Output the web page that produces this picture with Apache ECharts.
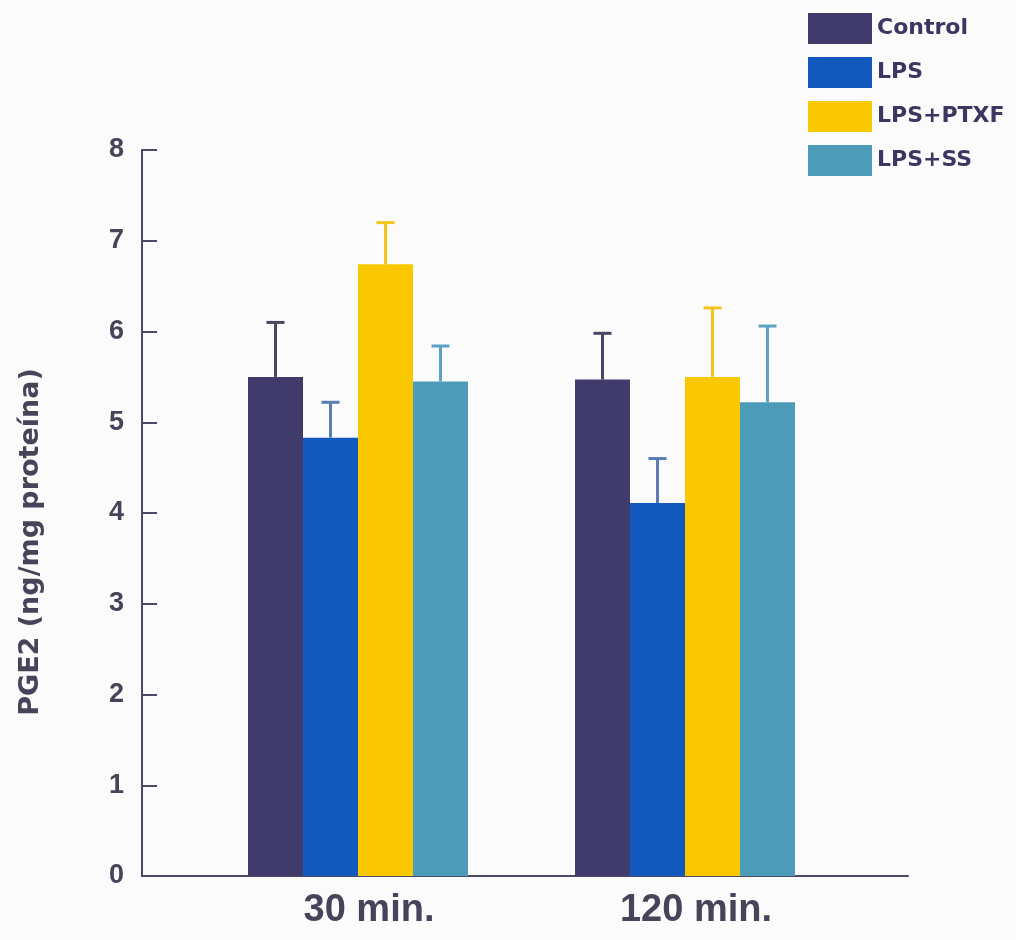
<!DOCTYPE html>
<html>
<head>
<meta charset="utf-8">
<script src="https://cdn.jsdelivr.net/npm/echarts@6/dist/echarts.min.js"></script>
<style>
html,body{margin:0;padding:0;background:#fbfbfc;}
#chart{width:1016px;height:940px;}
</style>
</head>
<body>
<div id="chart"></div>
<script>
// ---- data ----
const categories = ['30 min.', '120 min.'];
const seriesNames = ['Control', 'LPS', 'LPS+PTXF', 'LPS+SS'];
const controlMean = [5.50, 5.47];
const controlErr  = [0.60, 0.51];
const lpsMean     = [4.83, 4.11];
const lpsErr      = [0.39, 0.49];
const ptxfMean    = [6.74, 5.50];
const ptxfErr     = [0.46, 0.76];
const ssMean      = [5.45, 5.22];
const ssErr       = [0.39, 0.84];
const yTicks      = [0, 1, 2, 3, 4, 5, 6, 7, 8];
const yName = 'PGE2 (ng/mg proteína)';

// ---- styles ----
const barColors = ['#413b6b', '#1259bd', '#fac800', '#4b9bb9'];
const errColors = ['#4a4560', '#5b7cb4', '#f2c41c', '#5ca2c4'];
const BAR_W = 55;
const CAP_W = 18;
const means = [controlMean, lpsMean, ptxfMean, ssMean];
const errs = [controlErr, lpsErr, ptxfErr, ssErr];
const axisColor = '#4d4868';
const textColor = '#47445a';

const chart = echarts.init(document.getElementById('chart'));

const barSeries = seriesNames.map((name, i) => ({
  name: name,
  type: 'bar',
  xAxisIndex: 1,
  yAxisIndex: 1,
  barWidth: BAR_W,
  barGap: '0%',
  itemStyle: { color: barColors[i] },
  data: means[i],
  z: 3
}));

const errSeries = seriesNames.map((name, i) => ({
  type: 'custom',
  xAxisIndex: 1,
  yAxisIndex: 1,
  z: 4,
  silent: true,
  data: categories.map((c, k) => [k, means[i][k], means[i][k] + errs[i][k]]),
  renderItem: function (params, api) {
    const off = (i - (seriesNames.length - 1) / 2) * BAR_W;
    const p0 = api.coord([api.value(0), api.value(1)]);
    const p1 = api.coord([api.value(0), api.value(2)]);
    const x = p0[0] + off;
    const st = { stroke: errColors[i], lineWidth: 3 };
    return {
      type: 'group',
      children: [
        { type: 'line', shape: { x1: x, y1: p0[1], x2: x, y2: p1[1] }, style: st },
        { type: 'line', shape: { x1: x - CAP_W / 2, y1: p1[1], x2: x + CAP_W / 2, y2: p1[1] }, style: st }
      ]
    };
  }
}));

chart.setOption({
  backgroundColor: '#fbfbfc',
  animation: false,
  legend: {
    orient: 'vertical',
    left: 808,
    top: 13,
    padding: 0,
    itemWidth: 64,
    itemHeight: 31,
    itemGap: 13,
    icon: 'rect',
    data: seriesNames,
    textStyle: { fontFamily: 'DejaVu Sans', fontWeight: 'bold', fontSize: 22, color: '#3b3760' }
  },
  grid: [
    { left: 142, right: 108, top: 150, bottom: 64 },
    { left: 194.5, right: 167.5, top: 150, bottom: 64 }
  ],
  xAxis: [
    {
      type: 'category', gridIndex: 0, data: [''],
      axisLine: { show: true, lineStyle: { color: axisColor, width: 2 } },
      axisTick: { show: false }, axisLabel: { show: false }
    },
    {
      type: 'category', gridIndex: 1, data: categories,
      axisLine: { show: false }, axisTick: { show: false },
      axisLabel: {
        margin: 16,
        fontFamily: 'Liberation Sans', fontWeight: 'bold', fontSize: 38,
        color: textColor, padding: [0, 0, 0, 22]
      }
    }
  ],
  yAxis: [
    {
      type: 'value', gridIndex: 0, min: yTicks[0], max: yTicks[yTicks.length - 1], interval: 1,
      name: yName, nameLocation: 'middle', nameGap: 98, nameRotate: 90,
      nameTextStyle: { fontFamily: 'DejaVu Sans', fontWeight: 'bold', fontSize: 27, color: textColor, padding: [0, 58, 0, 0] },
      axisLine: { show: true, lineStyle: { color: axisColor, width: 2 } },
      axisTick: { show: true, inside: true, length: 15, lineStyle: { color: axisColor, width: 2 } },
      axisLabel: { margin: 18, fontFamily: 'Liberation Sans', fontWeight: 'bold', fontSize: 27, color: textColor },
      splitLine: { show: false }
    },
    {
      type: 'value', gridIndex: 1, min: yTicks[0], max: yTicks[yTicks.length - 1], interval: 1,
      show: false, splitLine: { show: false }
    }
  ],
  series: barSeries.concat(errSeries)
});
</script>
</body>
</html>
